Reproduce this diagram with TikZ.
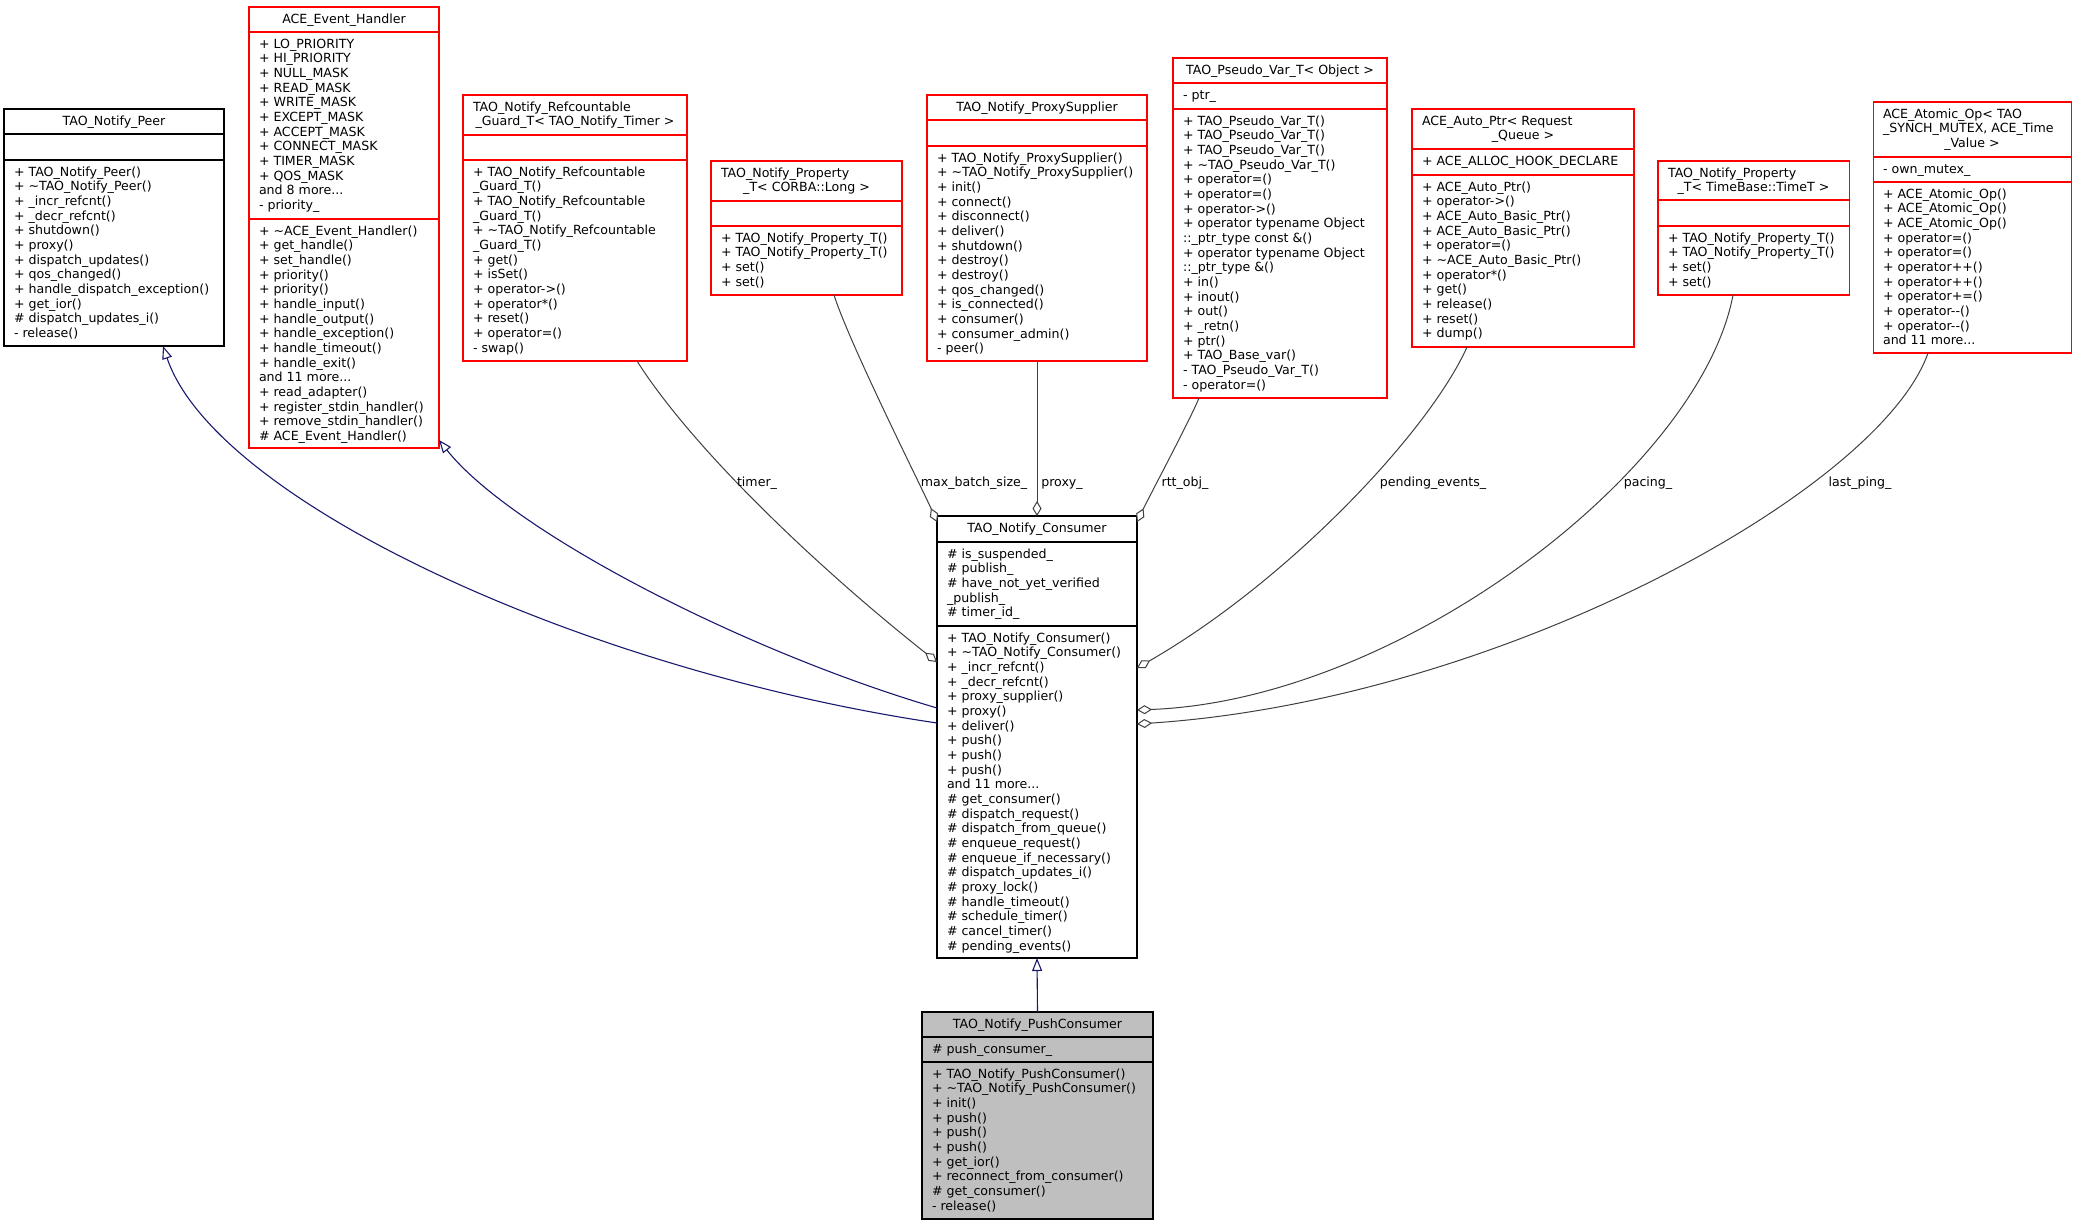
\documentclass[tikz,border=0pt]{standalone}
\usepackage{fontspec}
\setmainfont{DejaVu Sans}
\usetikzlibrary{arrows.meta}
\definecolor{navy}{HTML}{191970}
\definecolor{edgegray}{HTML}{404040}
\definecolor{pushfill}{HTML}{BFBFBF}
\definecolor{boxred}{HTML}{FF0000}
\tikzset{
 cls/.style={rectangle, draw, line width=1.05pt, inner sep=0pt, outer sep=0pt},
 txt/.style={inner sep=0pt, outer sep=0pt, anchor=north west, align=left, font=\fontsize{12.6}{14.68}\selectfont},
 ttl/.style={inner sep=0pt, outer sep=0pt, font=\fontsize{12.6}{14.68}\selectfont},
 ttlw/.style={ttl, anchor=base west},
 ttlc/.style={ttl, anchor=base},
 inh/.style={draw=navy, line width=1.1pt, -{Triangle[open, length=13pt, width=10pt, fill=white]}},
 mem/.style={draw=edgegray, line width=1pt, {Diamond[open, length=15pt, width=9pt, fill=white]}-},
 lbl/.style={ttl, anchor=base},
}
\newcommand\umlbox[9]{%
  \node[cls, draw=#8, fill=#9, minimum width={#4-#2}, minimum height={#7-#3}] (#1) at ({(#2+#4)/2},{(#3+#7)/2}) {};
  \draw[draw=#8, line width=1.05pt] (#2,#5) -- (#4,#5) (#2,#6) -- (#4,#6);
}
\newcommand\sect[4]{\node[txt] (#1) at (#2,#3) {\rule{0pt}{11pt}#4};}
\newcommand\tld{\textasciitilde}
\begin{document}
\begin{tikzpicture}[x=1pt,y=-1pt]
\useasboundingbox (0,0) rectangle (2076,1227);
\fill[white] (0,0) rectangle (2076,1227);

% TAO_Notify_Peer
\umlbox{peer}{4}{109}{224}{134}{160}{346}{black}{white}
\node[ttlc] (peer-t) at (114,125) {TAO\_Notify\_Peer};
\sect{peer-m}{14}{165}{+ TAO\_Notify\_Peer()\\
+ \tld TAO\_Notify\_Peer()\\
+ \_incr\_refcnt()\\
+ \_decr\_refcnt()\\
+ shutdown()\\
+ proxy()\\
+ dispatch\_updates()\\
+ qos\_changed()\\
+ handle\_dispatch\_exception()\\
+ get\_ior()\\
\# dispatch\_updates\_i()\\
- release()}

% ACE_Event_Handler
\umlbox{eh}{249}{7}{439}{32}{219}{448}{boxred}{white}
\node[ttlc] (eh-t) at (344,23) {ACE\_Event\_Handler};
\sect{eh-a}{259}{37}{+ LO\_PRIORITY\\
+ HI\_PRIORITY\\
+ NULL\_MASK\\
+ READ\_MASK\\
+ WRITE\_MASK\\
+ EXCEPT\_MASK\\
+ ACCEPT\_MASK\\
+ CONNECT\_MASK\\
+ TIMER\_MASK\\
+ QOS\_MASK\\
and 8 more...\\
- priority\_}
\sect{eh-m}{259}{224}{+ \tld ACE\_Event\_Handler()\\
+ get\_handle()\\
+ set\_handle()\\
+ priority()\\
+ priority()\\
+ handle\_input()\\
+ handle\_output()\\
+ handle\_exception()\\
+ handle\_timeout()\\
+ handle\_exit()\\
and 11 more...\\
+ read\_adapter()\\
+ register\_stdin\_handler()\\
+ remove\_stdin\_handler()\\
\# ACE\_Event\_Handler()}

% Refcountable guard
\umlbox{refc}{463}{95}{687}{135}{160}{361}{boxred}{white}
\node[ttlw] (refc-t1) at (473,111) {TAO\_Notify\_Refcountable};
\node[ttlc] (refc-t2) at (575,125.7) {\_Guard\_T< TAO\_Notify\_Timer >};
\sect{refc-m}{473}{165}{+ TAO\_Notify\_Refcountable\\
\_Guard\_T()\\
+ TAO\_Notify\_Refcountable\\
\_Guard\_T()\\
+ \tld TAO\_Notify\_Refcountable\\
\_Guard\_T()\\
+ get()\\
+ isSet()\\
+ operator->()\\
+ operator*()\\
+ reset()\\
+ operator=()\\
- swap()}

% Property CORBA::Long
\umlbox{propl}{711}{161}{902}{201}{226}{295}{boxred}{white}
\node[ttlw] (propl-t1) at (721,177) {TAO\_Notify\_Property};
\node[ttlc] (propl-t2) at (806.5,191.7) {\_T< CORBA::Long >};
\sect{propl-m}{721}{231}{+ TAO\_Notify\_Property\_T()\\
+ TAO\_Notify\_Property\_T()\\
+ set()\\
+ set()}

% ProxySupplier
\umlbox{proxy}{927}{95}{1147}{120}{146}{361}{boxred}{white}
\node[ttlc] (proxy-t) at (1037,111) {TAO\_Notify\_ProxySupplier};
\sect{proxy-m}{937}{151}{+ TAO\_Notify\_ProxySupplier()\\
+ \tld TAO\_Notify\_ProxySupplier()\\
+ init()\\
+ connect()\\
+ disconnect()\\
+ deliver()\\
+ shutdown()\\
+ destroy()\\
+ destroy()\\
+ qos\_changed()\\
+ is\_connected()\\
+ consumer()\\
+ consumer\_admin()\\
- peer()}

% Pseudo_Var
\umlbox{pseudo}{1173}{58}{1387}{83}{109}{398}{boxred}{white}
\node[ttlc] (pseudo-t) at (1280,74) {TAO\_Pseudo\_Var\_T< Object >};
\sect{pseudo-a}{1183}{88}{- ptr\_}
\sect{pseudo-m}{1183}{114}{+ TAO\_Pseudo\_Var\_T()\\
+ TAO\_Pseudo\_Var\_T()\\
+ TAO\_Pseudo\_Var\_T()\\
+ \tld TAO\_Pseudo\_Var\_T()\\
+ operator=()\\
+ operator=()\\
+ operator->()\\
+ operator typename Object\\
::\_ptr\_type const \&()\\
+ operator typename Object\\
::\_ptr\_type \&()\\
+ in()\\
+ inout()\\
+ out()\\
+ \_retn()\\
+ ptr()\\
+ TAO\_Base\_var()\\
- TAO\_Pseudo\_Var\_T()\\
- operator=()}

% ACE_Auto_Ptr
\umlbox{autoptr}{1412}{109}{1634}{149}{175}{347}{boxred}{white}
\node[ttlw] (autoptr-t1) at (1422,125) {ACE\_Auto\_Ptr< Request};
\node[ttlc] (autoptr-t2) at (1523,139.7) {\_Queue >};
\sect{autoptr-a}{1422}{154}{+ ACE\_ALLOC\_HOOK\_DECLARE}
\sect{autoptr-m}{1422}{180}{+ ACE\_Auto\_Ptr()\\
+ operator->()\\
+ ACE\_Auto\_Basic\_Ptr()\\
+ ACE\_Auto\_Basic\_Ptr()\\
+ operator=()\\
+ \tld ACE\_Auto\_Basic\_Ptr()\\
+ operator*()\\
+ get()\\
+ release()\\
+ reset()\\
+ dump()}

% Property TimeBase
\umlbox{timeb}{1658}{161}{1849}{200}{226}{295}{boxred}{white}
\node[ttlw] (timeb-t1) at (1668,177) {TAO\_Notify\_Property};
\node[ttlc] (timeb-t2) at (1753.5,191.7) {\_T< TimeBase::TimeT >};
\sect{timeb-m}{1668}{231}{+ TAO\_Notify\_Property\_T()\\
+ TAO\_Notify\_Property\_T()\\
+ set()\\
+ set()}

% ACE_Atomic_Op
\umlbox{atomic}{1873}{102}{2071}{157}{182}{353}{boxred}{white}
\node[ttlw] (atomic-t1) at (1883,118) {ACE\_Atomic\_Op< TAO};
\node[ttlw] (atomic-t2) at (1883,132.7) {\_SYNCH\_MUTEX, ACE\_Time};
\node[ttlc] (atomic-t3) at (1972,147.4) {\_Value >};
\sect{atomic-a}{1883}{162}{- own\_mutex\_}
\sect{atomic-m}{1883}{187}{+ ACE\_Atomic\_Op()\\
+ ACE\_Atomic\_Op()\\
+ ACE\_Atomic\_Op()\\
+ operator=()\\
+ operator=()\\
+ operator++()\\
+ operator++()\\
+ operator+=()\\
+ operator-{}-()\\
+ operator-{}-()\\
and 11 more...}

% TAO_Notify_Consumer
\umlbox{consumer}{937}{516}{1137}{542}{626}{958}{black}{white}
\node[ttlc] (consumer-t) at (1037,532) {TAO\_Notify\_Consumer};
\sect{consumer-a}{947}{547}{\# is\_suspended\_\\
\# publish\_\\
\# have\_not\_yet\_verified\\
\_publish\_\\
\# timer\_id\_}
\sect{consumer-m}{947}{631}{+ TAO\_Notify\_Consumer()\\
+ \tld TAO\_Notify\_Consumer()\\
+ \_incr\_refcnt()\\
+ \_decr\_refcnt()\\
+ proxy\_supplier()\\
+ proxy()\\
+ deliver()\\
+ push()\\
+ push()\\
+ push()\\
and 11 more...\\
\# get\_consumer()\\
\# dispatch\_request()\\
\# dispatch\_from\_queue()\\
\# enqueue\_request()\\
\# enqueue\_if\_necessary()\\
\# dispatch\_updates\_i()\\
\# proxy\_lock()\\
\# handle\_timeout()\\
\# schedule\_timer()\\
\# cancel\_timer()\\
\# pending\_events()}

% TAO_Notify_PushConsumer
\umlbox{push}{922}{1012}{1153}{1037}{1062}{1219}{black}{pushfill}
\node[ttlc] (push-t) at (1037.5,1028) {TAO\_Notify\_PushConsumer};
\sect{push-a}{932}{1042}{\# push\_consumer\_}
\sect{push-m}{932}{1067}{+ TAO\_Notify\_PushConsumer()\\
+ \tld TAO\_Notify\_PushConsumer()\\
+ init()\\
+ push()\\
+ push()\\
+ push()\\
+ get\_ior()\\
+ reconnect\_from\_consumer()\\
\# get\_consumer()\\
- release()}

% inheritance
\draw[inh] ([yshift=14pt]consumer.west) .. controls (580,670) and (215,500) .. ([xshift=49pt]peer.south);
\draw[inh] ([yshift=29pt]consumer.west) .. controls (740,650) and (510,530) .. ([yshift=8pt]eh.south east);
\draw[inh] (push.north) -- (consumer.south);

% members
\draw[mem] ([yshift=75pt]consumer.west) .. controls (823,572) and (694,451) .. ([xshift=62pt]refc.south);
\draw[mem] ([yshift=-6pt]consumer.north west) .. controls (922,488) and (850,345) .. ([xshift=27.5pt]propl.south);
\draw[mem] (consumer.north) -- (proxy.south);
\draw[mem] ([yshift=-6pt]consumer.north east) .. controls (1150,495) and (1190,420) .. ([xshift=-81pt]pseudo.south);
\draw[mem] ([yshift=69pt]consumer.east) .. controls (1290,580) and (1430,430) .. ([xshift=-56pt]autoptr.south);
\draw[mem] ([yshift=27pt]consumer.east) .. controls (1400,700) and (1700,470) .. ([xshift=-20.5pt]timeb.south);
\draw[mem] ([yshift=13pt]consumer.east) .. controls (1500,700) and (1880,490) .. ([xshift=-44pt]atomic.south);

% labels
\node[lbl] (l-timer) at (757,486) {timer\_};
\node[lbl] (l-mbs) at (974,486) {max\_batch\_size\_};
\node[lbl] (l-proxy) at (1062,486) {proxy\_};
\node[lbl] (l-rtt) at (1185,486) {rtt\_obj\_};
\node[lbl] (l-pend) at (1433,486) {pending\_events\_};
\node[lbl] (l-pacing) at (1648,486) {pacing\_};
\node[lbl] (l-ping) at (1860,486) {last\_ping\_};
\end{tikzpicture}
\end{document}
